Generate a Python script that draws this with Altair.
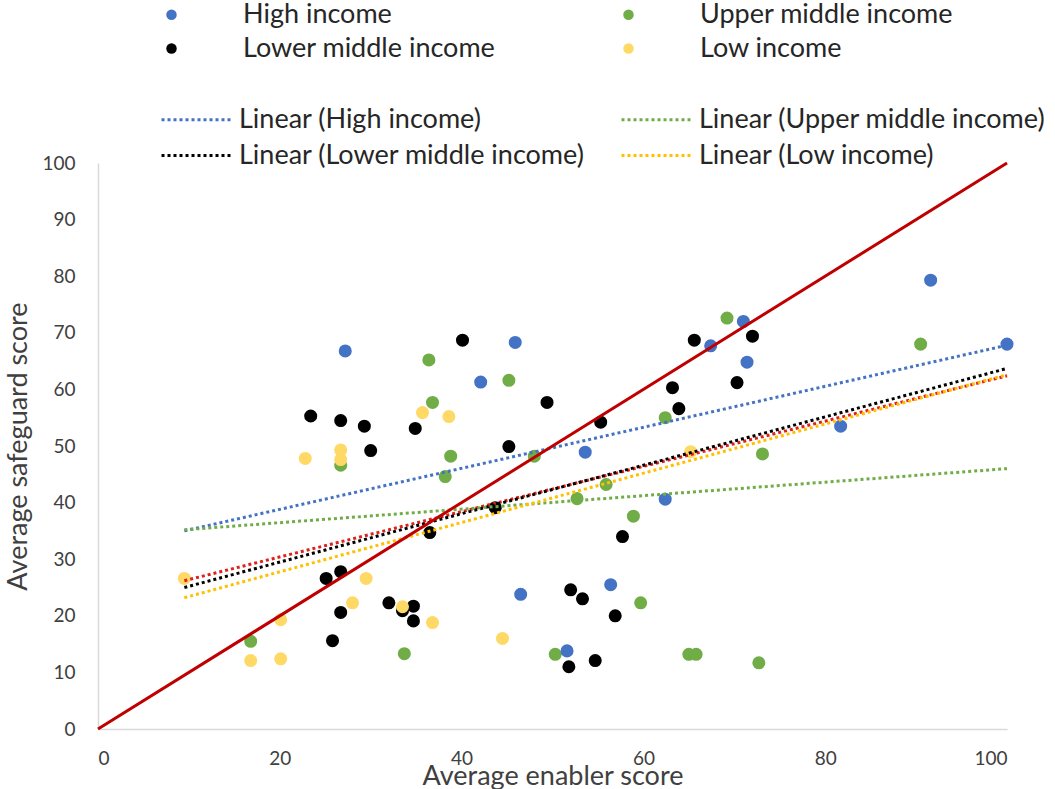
import altair as alt
import pandas as pd

# ---- data -----------------------------------------------------------------
# legend columns fill top-to-bottom, so the order here is column by column
groups = ["High income", "Lower middle income", "Upper middle income", "Low income"]
group_colors = ["#4472C4", "#000000", "#70AD47", "#FFD966"]

high_x = [27.2, 45.9, 42.1, 53.6, 62.4, 46.5, 56.4, 51.6, 71.0, 67.4, 71.4, 81.7, 91.6, 100.0]
high_y = [66.8, 68.3, 61.3, 48.9, 40.6, 23.8, 25.5, 13.8, 72.0, 67.7, 64.8, 53.5, 79.3, 68.0]

upper_x = [26.7, 36.4, 45.2, 36.8, 38.8, 38.2, 48.0, 62.4, 55.9, 52.7, 58.9,
           69.2, 90.5, 73.1, 16.8, 33.7, 50.3, 59.7, 65.0, 65.8, 72.7]
upper_y = [46.6, 65.2, 61.6, 57.7, 48.2, 44.6, 48.2, 55.0, 43.2, 40.7, 37.6,
           72.6, 68.0, 48.6, 15.5, 13.3, 13.2, 22.3, 13.2, 13.2, 11.7]

lower_x = [23.4, 26.7, 29.3, 34.9, 30.0, 40.1, 49.4, 45.2, 55.3, 65.6, 63.2, 63.9, 72.0, 70.3, 36.5,
           43.7, 57.7, 25.1, 26.7, 26.7, 25.8, 32.0, 33.5, 34.7, 34.7, 52.0, 53.3, 56.9, 51.8, 54.7]
lower_y = [55.3, 54.5, 53.5, 53.1, 49.2, 68.7, 57.7, 49.9, 54.2, 68.7, 60.3, 56.6, 69.4, 61.2, 34.7,
           39.1, 34.0, 26.6, 27.8, 20.6, 15.6, 22.3, 20.9, 21.7, 19.1, 24.6, 23.0, 20.0, 11.0, 12.1]

low_x = [9.5, 22.8, 26.7, 26.7, 35.7, 38.6, 29.5, 28.0, 33.5, 36.8, 20.1, 16.8, 20.1, 44.5, 65.2]
low_y = [26.6, 47.8, 49.3, 47.6, 55.9, 55.2, 26.6, 22.3, 21.6, 18.8, 19.3, 12.1, 12.4, 16.0, 49.0]

# linear trend lines: start and end of each fitted line
trend_names = ["Linear (High income)", "Linear (Lower middle income)",
               "Linear (Upper middle income)", "Linear (Low income)"]
trend_colors = ["#4472C4", "#000000", "#70AD47", "#FFC000"]
trend_x = [9.5, 100.0]
trend_high = [35.0, 67.8]
trend_lower = [25.0, 63.7]
trend_upper = [35.2, 46.0]
trend_low = [23.2, 62.6]
trend_all = [26.2, 62.4]

# reference diagonal (safeguard = enabler)
diag_x = [0, 100]
diag_y = [0, 100]

# ---- tables ---------------------------------------------------------------
points = pd.concat([
    pd.DataFrame({"x": upper_x, "y": upper_y, "group": "Upper middle income"}),
    pd.DataFrame({"x": high_x, "y": high_y, "group": "High income"}),
    pd.DataFrame({"x": lower_x, "y": lower_y, "group": "Lower middle income"}),
    pd.DataFrame({"x": low_x, "y": low_y, "group": "Low income"}),
], ignore_index=True)
points["order"] = range(len(points))

trends = pd.concat([
    pd.DataFrame({"x": trend_x, "y": ys, "trend": name})
    for name, ys in zip(trend_names, [trend_high, trend_lower, trend_upper, trend_low])
], ignore_index=True)
overall = pd.DataFrame({"x": trend_x, "y": trend_all})
diag = pd.DataFrame({"x": diag_x, "y": diag_y})

FONT = "Lato, Open Sans, sans-serif"

x_enc = alt.X("x:Q", scale=alt.Scale(domain=[0, 100], nice=False),
              axis=alt.Axis(title="Average enabler score", values=[0, 20, 40, 60, 80, 100]))
y_enc = alt.Y("y:Q", scale=alt.Scale(domain=[0, 100], nice=False),
              axis=alt.Axis(title="Average safeguard score", values=list(range(0, 101, 10))))

scatter = alt.Chart(points).mark_circle(size=170, opacity=1).encode(
    x=x_enc, y=y_enc,
    fill=alt.Fill("group:N", scale=alt.Scale(domain=groups, range=group_colors),
                  legend=alt.Legend(title=None, orient="none", legendX=60, legendY=-162,
                                    columns=2, columnPadding=119, rowPadding=6,
                                    symbolType="circle", symbolSize=110, symbolStrokeWidth=0,
                                    labelOffset=58, labelFontSize=27, labelFont=FONT,
                                    labelColor="#262626", labelLimit=400, padding=0)),
    order="order:Q",
)

# a long flat dotted dash as the legend key, wider than the row is tall
key_path = "M-2.4,0L2.4,0"

trend_lines = alt.Chart(trends).mark_line(strokeWidth=3, strokeDash=[3, 3]).encode(
    x="x:Q", y="y:Q",
    stroke=alt.Stroke("trend:N", scale=alt.Scale(domain=trend_names, range=trend_colors),
                      legend=alt.Legend(title=None, orient="none", legendX=83, legendY=-60,
                                        columns=2, columnPadding=29, rowPadding=6,
                                        symbolType=key_path, symbolSize=900,
                                        symbolStrokeWidth=3, symbolDash=[3, 3],
                                        symbolFillColor="transparent",
                                        labelOffset=25, labelFontSize=27, labelFont=FONT,
                                        labelColor="#262626", labelLimit=450, padding=0)),
)

overall_line = alt.Chart(overall).mark_line(
    strokeWidth=3, strokeDash=[3, 3], color="#E0201B"
).encode(x="x:Q", y="y:Q")

diag_line = alt.Chart(diag).mark_line(strokeWidth=3, color="#C00000").encode(x="x:Q", y="y:Q")

chart = alt.layer(scatter, overall_line, trend_lines, diag_line).properties(
    width=909, height=566,
    autosize=alt.AutoSizeParams(type="none"),
    padding={"left": 98, "top": 163, "right": 48, "bottom": 60},
).configure_view(stroke=None).configure_axis(
    grid=False, ticks=False, tickSize=0,
    domainColor="#D9D9D9", domainWidth=1.5,
    labelFont=FONT, labelFontSize=19, labelColor="#404040",
    titleFont=FONT, titleFontSize=27, titleColor="#404040", titleFontWeight="normal",
).configure_axisX(
    labelPadding=20, titleY=55, titleBaseline="alphabetic",
).configure_axisY(
    labelPadding=23, titleX=-80, titleY=283, titleBaseline="middle",
)

chart.save("out.html", embed_options={"renderer": "svg", "actions": False})
